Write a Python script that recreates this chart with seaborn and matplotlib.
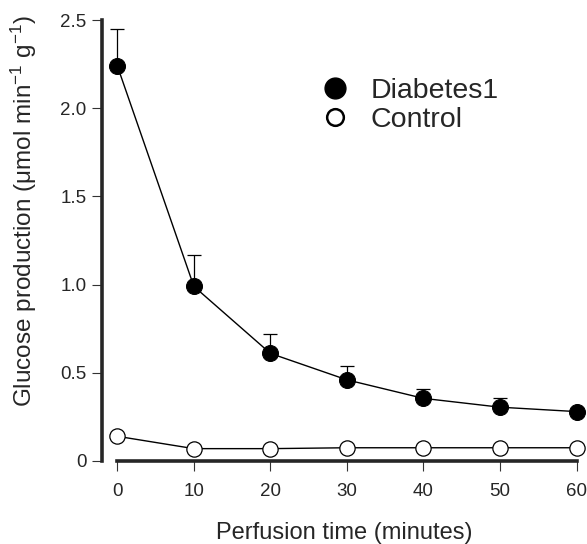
import numpy as np
import pandas as pd
import matplotlib
matplotlib.use("Agg")
import matplotlib.pyplot as plt
import seaborn as sns
from matplotlib.lines import Line2D

# data
time_min = [0, 10, 20, 30, 40, 50, 60]
diabetes1 = [2.24, 0.99, 0.61, 0.46, 0.355, 0.305, 0.28]
diabetes1_err = [0.21, 0.18, 0.11, 0.08, 0.055, 0.05, 0.0]
control = [0.14, 0.07, 0.07, 0.075, 0.075, 0.075, 0.075]

y_ticks = [0, 0.5, 1.0, 1.5, 2.0, 2.5]
y_tick_labels = ["0", "0.5", "1.0", "1.5", "2.0", "2.5"]

sns.set_style("ticks")
plt.rcParams["font.family"] = ["Liberation Sans", "DejaVu Sans"]
plt.rcParams["mathtext.fontset"] = "custom"
plt.rcParams["mathtext.rm"] = "Liberation Sans"
plt.rcParams["mathtext.it"] = "Liberation Sans:italic"

df = pd.DataFrame({"time": time_min, "Diabetes1": diabetes1, "Control": control})

fig = plt.figure(figsize=(5.87, 5.44), dpi=100)
ax = fig.add_axes([0.1738, 0.1526, 0.824, 0.8106])

# error bars (upper only)
ax.errorbar(time_min, diabetes1, yerr=[np.zeros(len(diabetes1_err)), diabetes1_err],
            fmt="none", ecolor="black", elinewidth=0.9, capsize=5, capthick=0.9,
            zorder=2, clip_on=False)

sns.lineplot(data=df, x="time", y="Diabetes1", ax=ax, color="black", linewidth=1.0,
             marker="o", markersize=11.5, markerfacecolor="black",
             markeredgecolor="black", clip_on=False, zorder=3)
sns.lineplot(data=df, x="time", y="Control", ax=ax, color="black", linewidth=1.0,
             marker="o", markersize=11, markerfacecolor="white",
             markeredgecolor="black", markeredgewidth=0.9, clip_on=False, zorder=3)

ax.set_xlim(-2, 61.2)
ax.set_ylim(0, 2.5)
ax.set_xticks(time_min)
ax.set_yticks(y_ticks)
ax.set_yticklabels(y_tick_labels)

for side in ["top", "right"]:
    ax.spines[side].set_visible(False)
ax.spines["left"].set_bounds(0, 2.5)
ax.spines["bottom"].set_bounds(0, 60)
ax.spines["left"].set_linewidth(2.6)
ax.spines["bottom"].set_linewidth(2.6)

ax.tick_params(axis="both", labelsize=13.5, width=0.8, length=7, color="#333333")
ax.tick_params(axis="x", pad=9)
ax.tick_params(axis="y", pad=4)

ax.set_xlabel("Perfusion time (minutes)", fontsize=17, labelpad=16)
ax.set_ylabel("Glucose production (μmol min$^{-1}$ g$^{-1}$)", fontsize=17.5)
ax.yaxis.set_label_coords(-0.13, 0.567)

handles = [
    Line2D([], [], linestyle="none", marker="o", markersize=15,
           markerfacecolor="black", markeredgecolor="black"),
    Line2D([], [], linestyle="none", marker="o", markersize=12,
           markerfacecolor="white", markeredgecolor="black", markeredgewidth=1.8),
]
ax.legend(handles, ["Diabetes1", "Control"], loc="upper left",
          bbox_to_anchor=(0.40, 0.927), frameon=False, fontsize=20.5,
          handletextpad=0.75, labelspacing=0.12, handlelength=1.0)

fig.savefig("out.png", dpi=100)
